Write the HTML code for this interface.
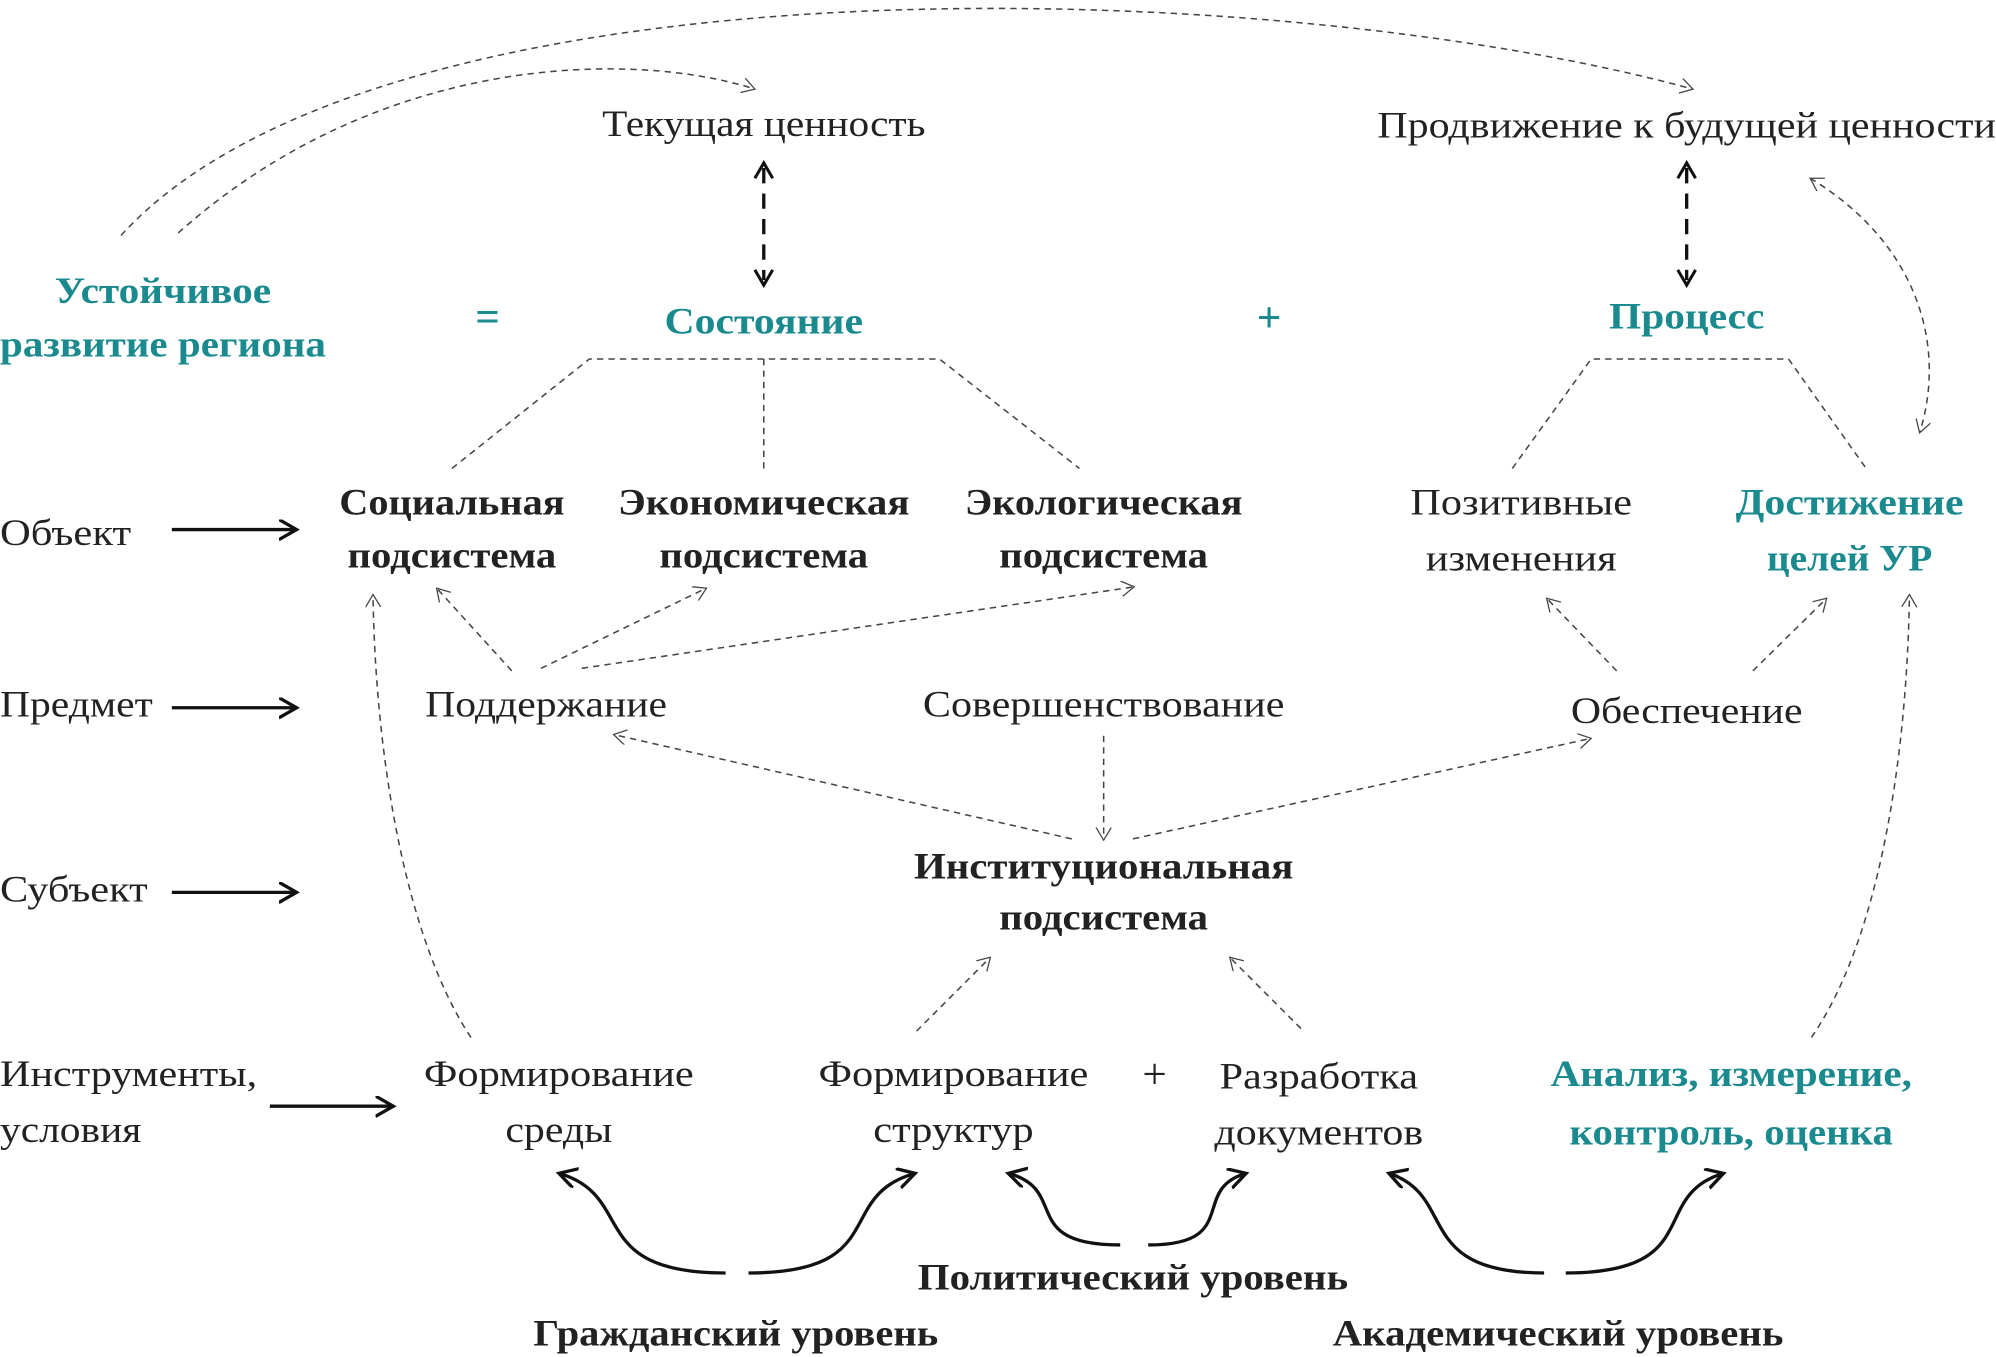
<!DOCTYPE html>
<html><head><meta charset="utf-8"><style>
html,body{margin:0;padding:0;background:#fff;}
svg{display:block;}
text{font-family:"Liberation Serif",serif;font-size:29px;fill:#222;}
.b{font-weight:bold;}
.t{fill:#1a8a8f;font-weight:bold;}
.c{text-anchor:middle;}
</style></head><body>
<svg width="1996" height="1357" viewBox="0 0 1568 1066" xmlns="http://www.w3.org/2000/svg">
<defs>
<marker id="oa" markerWidth="14" markerHeight="14" refX="10" refY="6" orient="auto-start-reverse" markerUnits="userSpaceOnUse"><path d="M0,0 L10,6 L0,12" fill="none" stroke="#444" stroke-width="1"/></marker>
<marker id="sa" markerWidth="20" markerHeight="20" refX="13" refY="8" orient="auto" markerUnits="userSpaceOnUse"><path d="M0,0 L14,8 L0,16" fill="none" stroke="#111" stroke-width="2.6"/></marker>
</defs>

<!-- dashed thin connectors -->
<g fill="none" stroke="#444" stroke-width="1.2" stroke-dasharray="5,4">
<path d="M95,185 C300,-40 1000,-20 1330,70" marker-end="url(#oa)"/>
<path d="M140,183 C300,40 500,40 593,70" marker-end="url(#oa)"/>
<path d="M1422,140 C1505,190 1530,270 1508,340" marker-end="url(#oa)" marker-start="url(#oa)"/>
<polyline points="355,368 463,282 738,282 848,368"/>
<line x1="600" y1="282" x2="600" y2="368"/>
<polyline points="1188,368 1250,282 1405,282 1466,368"/>
<line x1="402" y1="527" x2="343" y2="462" marker-end="url(#oa)"/>
<line x1="425" y1="525" x2="555" y2="462" marker-end="url(#oa)"/>
<line x1="457" y1="525" x2="891" y2="461" marker-end="url(#oa)"/>
<line x1="1270" y1="527" x2="1215" y2="470" marker-end="url(#oa)"/>
<line x1="1377" y1="527" x2="1435" y2="470" marker-end="url(#oa)"/>
<line x1="842" y1="659" x2="482" y2="577" marker-end="url(#oa)"/>
<line x1="867" y1="578" x2="867" y2="660" marker-end="url(#oa)"/>
<line x1="890" y1="659" x2="1250" y2="580" marker-end="url(#oa)"/>
<line x1="720" y1="810" x2="778" y2="752" marker-end="url(#oa)"/>
<line x1="1022" y1="808" x2="966" y2="752" marker-end="url(#oa)"/>
<path d="M370,815 C320,740 295,600 293,467" marker-end="url(#oa)"/>
<path d="M1423,815 C1475,740 1498,600 1500,467" marker-end="url(#oa)"/>
</g>

<!-- bold dashed double arrows -->
<g fill="none" stroke="#111" stroke-width="2.6" stroke-dasharray="12,8">
<line x1="600" y1="132" x2="600" y2="220"/>
<line x1="1325" y1="132" x2="1325" y2="220"/>
</g>
<g fill="none" stroke="#111" stroke-width="2.4">
<path d="M593,140 L600,128 L607,140"/><path d="M593,212 L600,224 L607,212"/>
<path d="M1318,140 L1325,128 L1332,140"/><path d="M1318,212 L1325,224 L1332,212"/>
</g>

<!-- solid arrows -->
<g fill="none" stroke="#111" stroke-width="2.6">
<line x1="135" y1="416" x2="232" y2="416" marker-end="url(#sa)"/>
<line x1="135" y1="556" x2="232" y2="556" marker-end="url(#sa)"/>
<line x1="135" y1="701" x2="232" y2="701" marker-end="url(#sa)"/>
<line x1="212" y1="869" x2="308" y2="869" marker-end="url(#sa)"/>
<path d="M570,1000 C460,1000 500,940 440,922" marker-end="url(#sa)"/>
<path d="M588,1000 C700,1000 655,940 718,922" marker-end="url(#sa)"/>
<path d="M880,978 C800,978 840,935 793,922" marker-end="url(#sa)"/>
<path d="M902,978 C975,978 935,935 978,922" marker-end="url(#sa)"/>
<path d="M1213,1000 C1110,1000 1145,940 1092,922" marker-end="url(#sa)"/>
<path d="M1230,1000 C1340,1000 1295,940 1353,922" marker-end="url(#sa)"/>
</g>

<!-- text -->
<text class="c" x="600" y="107" textLength="254" lengthAdjust="spacingAndGlyphs">Текущая ценность</text>
<text class="c" x="1325" y="108" textLength="486" lengthAdjust="spacingAndGlyphs">Продвижение к будущей ценности</text>
<text class="t c" x="128" y="238" textLength="170" lengthAdjust="spacingAndGlyphs">Устойчивое</text>
<text class="t c" x="128" y="280" textLength="256" lengthAdjust="spacingAndGlyphs">развитие региона</text>
<text class="t c" x="383" y="260" style="font-size:34px">=</text>
<text class="t c" x="600" y="262" textLength="156" lengthAdjust="spacingAndGlyphs">Состояние</text>
<text class="t c" x="997" y="261" style="font-size:34px">+</text>
<text class="t c" x="1325" y="258" textLength="122" lengthAdjust="spacingAndGlyphs">Процесс</text>

<text x="0" y="428" textLength="103" lengthAdjust="spacingAndGlyphs">Объект</text>
<text class="b c" x="355" y="404" textLength="177" lengthAdjust="spacingAndGlyphs">Социальная</text>
<text class="b c" x="355" y="446" textLength="164" lengthAdjust="spacingAndGlyphs">подсистема</text>
<text class="b c" x="600" y="404" textLength="229" lengthAdjust="spacingAndGlyphs">Экономическая</text>
<text class="b c" x="600" y="446" textLength="164" lengthAdjust="spacingAndGlyphs">подсистема</text>
<text class="b c" x="867" y="404" textLength="218" lengthAdjust="spacingAndGlyphs">Экологическая</text>
<text class="b c" x="867" y="446" textLength="164" lengthAdjust="spacingAndGlyphs">подсистема</text>
<text class="c" x="1195" y="404" textLength="174" lengthAdjust="spacingAndGlyphs">Позитивные</text>
<text class="c" x="1195" y="448" textLength="150" lengthAdjust="spacingAndGlyphs">изменения</text>
<text class="t c" x="1453" y="404" textLength="179" lengthAdjust="spacingAndGlyphs">Достижение</text>
<text class="t c" x="1453" y="448" textLength="130" lengthAdjust="spacingAndGlyphs">целей УР</text>

<text x="0" y="563" textLength="120" lengthAdjust="spacingAndGlyphs">Предмет</text>
<text class="c" x="429" y="563" textLength="190" lengthAdjust="spacingAndGlyphs">Поддержание</text>
<text class="c" x="867" y="563" textLength="284" lengthAdjust="spacingAndGlyphs">Совершенствование</text>
<text class="c" x="1325" y="568" textLength="182" lengthAdjust="spacingAndGlyphs">Обеспечение</text>

<text x="0" y="708" textLength="116" lengthAdjust="spacingAndGlyphs">Субъект</text>
<text class="b c" x="867" y="690" textLength="298" lengthAdjust="spacingAndGlyphs">Институциональная</text>
<text class="b c" x="867" y="730" textLength="164" lengthAdjust="spacingAndGlyphs">подсистема</text>

<text x="0" y="853" textLength="202" lengthAdjust="spacingAndGlyphs">Инструменты,</text>
<text x="0" y="897" textLength="111" lengthAdjust="spacingAndGlyphs">условия</text>
<text class="c" x="439" y="853" textLength="212" lengthAdjust="spacingAndGlyphs">Формирование</text>
<text class="c" x="439" y="897" textLength="84" lengthAdjust="spacingAndGlyphs">среды</text>
<text class="c" x="749" y="853" textLength="212" lengthAdjust="spacingAndGlyphs">Формирование</text>
<text class="c" x="749" y="897" textLength="126" lengthAdjust="spacingAndGlyphs">структур</text>
<text class="c" x="907" y="855" style="font-size:34px">+</text>
<text class="c" x="1036" y="855" textLength="156" lengthAdjust="spacingAndGlyphs">Разработка</text>
<text class="c" x="1036" y="899" textLength="164" lengthAdjust="spacingAndGlyphs">документов</text>
<text class="t c" x="1360" y="853" textLength="284" lengthAdjust="spacingAndGlyphs">Анализ, измерение,</text>
<text class="t c" x="1360" y="899" textLength="254" lengthAdjust="spacingAndGlyphs">контроль, оценка</text>

<text class="b c" x="890" y="1013" textLength="338" lengthAdjust="spacingAndGlyphs">Политический уровень</text>
<text class="b c" x="578" y="1057" textLength="318" lengthAdjust="spacingAndGlyphs">Гражданский уровень</text>
<text class="b c" x="1224" y="1057" textLength="354" lengthAdjust="spacingAndGlyphs">Академический уровень</text>
</svg>
</body></html>
